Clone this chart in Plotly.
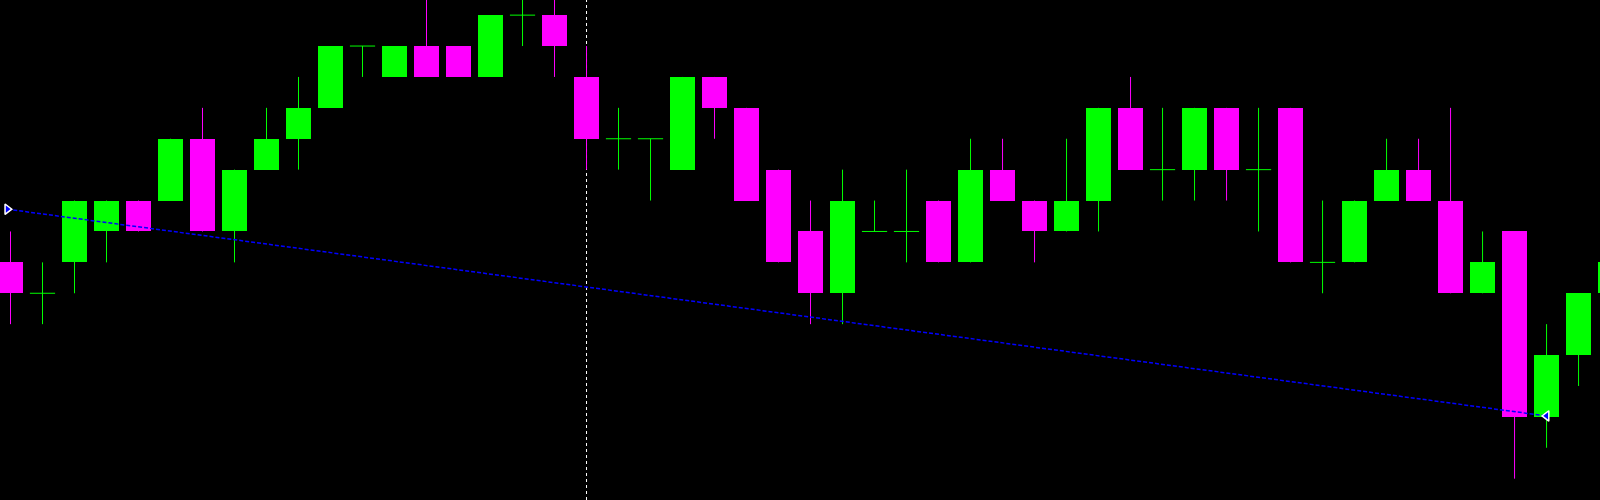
import plotly.graph_objects as go

# Candle data (index-based time axis)
opens  = [7, 6, 7, 8, 9, 9, 11, 8, 10, 11, 12, 14, 13, 14, 14, 13, 15, 15, 13, 11,
          11, 10, 13, 12, 10, 8, 6, 8, 8, 9, 7, 10, 9, 8, 9, 12, 10, 10, 12, 10,
          12, 7, 7, 9, 10, 9, 6, 8, 2, 4, 6]
highs  = [8, 7, 9, 9, 9, 11, 12, 10, 12, 13, 14, 14, 14, 16, 14, 15, 16, 16, 14, 12,
          11, 13, 13, 12, 10, 9, 10, 9, 10, 9, 11, 11, 9, 11, 12, 13, 12, 12, 12, 12,
          12, 9, 9, 11, 11, 12, 8, 8, 5, 6, 7]
lows   = [5, 5, 6, 7, 8, 9, 8, 7, 10, 10, 12, 13, 13, 13, 13, 13, 14, 13, 10, 10,
          9, 10, 11, 9, 7, 5, 5, 8, 7, 7, 7, 9, 7, 8, 8, 10, 9, 9, 9, 8,
          7, 6, 7, 9, 9, 6, 6, 0, 1, 3, 6]
closes = [6, 6, 9, 9, 8, 11, 8, 10, 11, 12, 14, 14, 14, 13, 13, 15, 15, 14, 11, 11,
          11, 13, 12, 9, 7, 6, 9, 8, 8, 7, 10, 9, 8, 9, 12, 10, 10, 12, 10, 10,
          7, 7, 9, 10, 9, 6, 7, 2, 4, 6, 7]

# Trend line end points (index, price)
trend_x = [-0.1, 48]
trend_y = [8.72, 2.03]
# Vertical separator position (index)
vline_x = 18

GREEN = "#00ff00"
MAGENTA = "#ff00ff"
BODY_W = 0.78

idx = list(range(len(opens)))

fig = go.Figure()

def add_group(sel, color):
    wx, wy = [], []
    for i in sel:
        wx += [i, i, None]
        wy += [lows[i], highs[i], None]
    fig.add_trace(go.Scatter(x=wx, y=wy, mode="lines",
                             line=dict(color=color, width=1),
                             hoverinfo="skip", showlegend=False))
    body = [i for i in sel if opens[i] != closes[i]]
    fig.add_trace(go.Bar(x=body,
                         y=[abs(closes[i] - opens[i]) for i in body],
                         base=[min(opens[i], closes[i]) for i in body],
                         width=BODY_W, marker=dict(color=color, line=dict(width=0)),
                         showlegend=False))
    doji = [i for i in sel if opens[i] == closes[i]]
    if doji:
        fig.add_trace(go.Scatter(x=doji, y=[opens[i] for i in doji], mode="markers",
                                 marker=dict(symbol="line-ew-open", size=18,
                                             color=color,
                                             line=dict(color=color, width=1)),
                                 showlegend=False))

bull = [i for i in idx if closes[i] >= opens[i]]
bear = [i for i in idx if closes[i] < opens[i]]
add_group(bull, GREEN)
add_group(bear, MAGENTA)

# Trend line
fig.add_trace(go.Scatter(x=trend_x, y=trend_y, mode="lines",
                         line=dict(color="#0000ff", width=1.5, dash="4px,2px"),
                         showlegend=False))
fig.add_trace(go.Scatter(x=trend_x, y=trend_y, mode="markers",
                         marker=dict(symbol=["triangle-right", "triangle-left"],
                                     size=9, color="#0000ff",
                                     line=dict(color="white", width=1.5)),
                         showlegend=False))

fig.add_shape(type="line", xref="x", yref="paper", x0=vline_x, x1=vline_x, y0=0, y1=1,
              layer="below", line=dict(color="white", width=1, dash="dot"))

fig.update_layout(
    width=1600, height=500,
    margin=dict(l=0, r=0, t=0, b=0),
    paper_bgcolor="black", plot_bgcolor="black",
    barmode="overlay", bargap=0,
    xaxis=dict(range=[-0.328, 49.67], visible=False, showgrid=False, zeroline=False),
    yaxis=dict(range=[-0.69, 15.49], visible=False, showgrid=False, zeroline=False),
    showlegend=False,
)

fig.write_html(
    "out.html",
    config={"displayModeBar": False},
    post_script="document.body.style.margin='0';document.body.style.background='black';document.body.style.overflow='hidden';",
)
